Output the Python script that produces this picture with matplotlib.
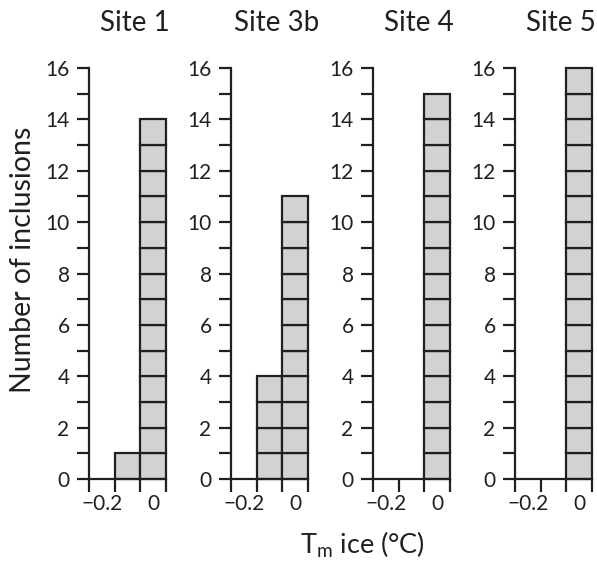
import numpy as np
import matplotlib.pyplot as plt
from matplotlib.ticker import FixedLocator, NullFormatter, FixedFormatter

plt.rcParams['font.family'] = ['Lato', 'DejaVu Sans']

sites = ["Site 1", "Site 3b", "Site 4", "Site 5"]
bin_centers = [-0.1, 0.0]
counts_m01 = [1, 4, 0, 0]     # inclusions in the -0.1 °C bin
counts_0 = [14, 11, 15, 16]   # inclusions in the 0 °C bin
x_labels = ["\u22120.2", "0"]
x_label_pos = [-0.2, 0.0]

INK = "#231f20"
FACE = "#d1d2d4"
W, H = 597, 561

fig = plt.figure(figsize=(W / 100, H / 100), dpi=100)

for i, site in enumerate(sites):
    left = (89 + 142 * i) / W
    ax = fig.add_axes([left, 82 / H, 77 / W, 411 / H])
    for xc, n in zip(bin_centers, [counts_m01[i], counts_0[i]]):
        for k in range(n):
            ax.bar(xc, 1, bottom=k, width=0.1, color=FACE, edgecolor=INK,
                   linewidth=1.6, clip_on=False)
    ax.set_xlim(-0.25, 0.05)
    ax.set_ylim(0, 16)
    for s in ("top", "right"):
        ax.spines[s].set_visible(False)
    for s in ("left", "bottom"):
        ax.spines[s].set_linewidth(1.6)
        ax.spines[s].set_color(INK)
    # ticks at bin edges, labels at bin centres
    ax.xaxis.set_major_locator(FixedLocator([-0.25, -0.15, -0.05, 0.05]))
    ax.xaxis.set_major_formatter(NullFormatter())
    ax.xaxis.set_minor_locator(FixedLocator(x_label_pos))
    ax.xaxis.set_minor_formatter(FixedFormatter(x_labels))
    ax.tick_params(axis="x", which="major", length=9, width=1.6, color=INK)
    ax.tick_params(axis="x", which="minor", length=0, pad=11,
                   labelsize=15, labelcolor=INK)
    ax.set_yticks(np.arange(0, 17, 2))
    ax.set_yticks(np.arange(1, 17, 2), minor=True)
    ax.tick_params(axis="y", which="both", length=9, width=1.6, color=INK,
                   labelsize=15, labelcolor=INK, pad=5)
    ax.text(0.59, 1.11, site, transform=ax.transAxes, ha="center",
            va="center", fontsize=20, color=INK)

fig.text(23 / W, 1 - 260 / H, "Number of inclusions", rotation=90,
         ha="center", va="center", fontsize=20.5, color=INK)
fig.text(362 / W, 1 - 545 / H, "T$_{\\mathregular{m}}$ ice (\u00b0C)",
         ha="center", va="center", fontsize=19.5, color=INK)

fig.savefig("out.png", dpi=100)
